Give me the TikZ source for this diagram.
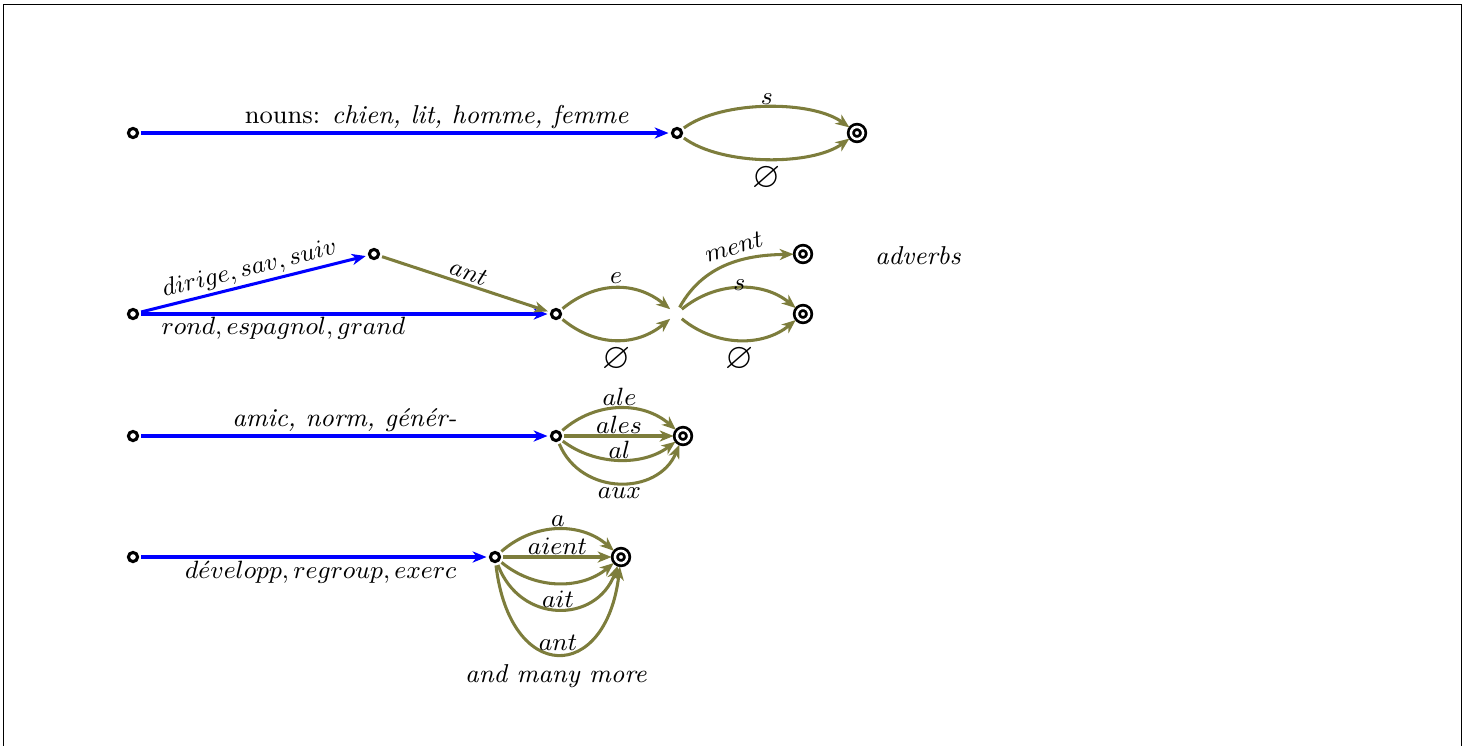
\documentclass[tikz,border=0pt]{standalone}
\usepackage{amssymb}
\usetikzlibrary{arrows.meta}
\definecolor{suffixcol}{RGB}{125,125,60}
\newcommand{\nullsuffix}{\scalebox{1.4}{$\varnothing$}}
\begin{document}
\begin{tikzpicture}[x=0.36pt,y=-0.36pt,
  font=\fontsize{9.3}{11}\selectfont,
  st/.style={circle,draw,line width=1.1pt,minimum size=3.3pt,inner sep=0pt,outer sep=1.4pt,fill=white},
  acc/.style={circle,draw,line width=1pt,double,double distance=0.9pt,minimum size=4.4pt,inner sep=0pt,outer sep=1.2pt,fill=white},
  gap/.style={circle,minimum size=5pt,inner sep=0pt},
  tip/.style={-{Stealth[length=5pt,width=4pt,inset=1.5pt]}},
  lex/.style={draw=blue,line width=1.1pt,tip},
  sfx/.style={draw=suffixcol,line width=1.1pt,tip},
  lab/.style={inner sep=1pt}
]
\useasboundingbox (0,0) rectangle (1470,745);
% page frame
\draw[line width=0.35pt] (3,760) -- (3,4) -- (1461,4) -- (1461,760);

% nouns
\node[st] (s1) at (133,133) {};
\node[st] (m1) at (677,133) {};
\node[acc] (f1) at (857,133) {};
\draw[lex] (s1) -- node[above,pos=0.56,inner sep=1pt]{nouns: \textit{chien, lit, homme, femme}} (m1);
\draw[sfx] (m1) .. controls +(45,-33) and +(-45,-33) .. node[above,inner sep=0.5pt]{$s$} (f1);
\draw[sfx] (m1) .. controls +(45,33) and +(-45,33) .. node[below,inner sep=2pt]{\nullsuffix} (f1);

% adjectives and adverbs
\node[st] (s2) at (133,314) {};
\node[st] (u2) at (374,254) {};
\node[st] (m2) at (556,314) {};
\node[gap] (j2) at (676,314) {};
\node[acc] (fa) at (803,254) {};
\node[acc] (fb) at (803,314) {};
\node (adv) at (918,256) {\textit{adverbs}};
\draw[lex] (s2) -- node[above,sloped,pos=0.5,lab]{$dirige,sav,suiv$} (u2);
\draw[lex] (s2) -- node[below,pos=0.35,inner sep=0.5pt]{$rond,espagnol,grand$} (m2);
\draw[sfx] (u2) -- node[above,sloped,lab]{$ant$} (m2);
\draw[sfx] (m2) .. controls +(40,-33) and +(-40,-33) .. node[above,lab]{$e$} (j2);
\draw[sfx] (m2) .. controls +(40,33) and +(-40,33) .. node[below,inner sep=2pt]{\nullsuffix} (j2);
\draw[sfx] (j2) .. controls +(30,-55) and +(-48,1) .. node[above,sloped,pos=0.55,inner sep=2pt]{$ment$} (fa);
\draw[sfx] (j2) .. controls +(40,-33) and +(-40,-33) .. node[above,inner sep=0pt,yshift=-1.5pt]{$s$} (fb);
\draw[sfx] (j2) .. controls +(40,33) and +(-40,33) .. node[below,inner sep=2pt]{\nullsuffix} (fb);

% -al adjectives
\node[st] (s3) at (133,436) {};
\node[st] (m3) at (556,436) {};
\node[acc] (f3) at (683,436) {};
\draw[lex] (s3) -- node[above,lab]{\textit{amic, norm, génér-}} (m3);
\draw[sfx] (m3) .. controls +(40,-35) and +(-40,-35) .. node[above,inner sep=0.5pt]{$ale$} (f3);
\draw[sfx] (m3) -- node[above,inner sep=0.5pt]{$ales$} (f3);
\draw[sfx] (m3) .. controls +(40,30) and +(-40,30) .. node[above,inner sep=0pt]{$al$} (f3);
\draw[sfx] (m3) .. controls +(25,60) and +(-25,60) .. node[below,lab]{$aux$} (f3);

% verbs
\node[st] (s4) at (133,557) {};
\node[st] (m4) at (495,557) {};
\node[acc] (f4) at (621,557) {};
\draw[lex] (s4) -- node[below,pos=0.52,lab]{$d\acute{e}velopp,regroup,exerc$} (m4);
\draw[sfx] (m4) .. controls +(40,-35) and +(-40,-35) .. node[above,inner sep=0.5pt]{$a$} (f4);
\draw[sfx] (m4) -- node[above,inner sep=0.5pt]{$aient$} (f4);
\draw[sfx] (m4) .. controls +(40,33) and +(-40,33) .. (f4);
\draw[sfx] (m4) .. controls +(25,67) and +(-25,67) .. node[above,inner sep=0pt]{$ait$} (f4);
\draw[sfx] (m4) .. controls +(15,127) and +(-15,127) .. node[above,inner sep=0pt,yshift=1pt]{$ant$} (f4);
\node (more) at (556,676) {\textit{and many more}};
\end{tikzpicture}
\end{document}
